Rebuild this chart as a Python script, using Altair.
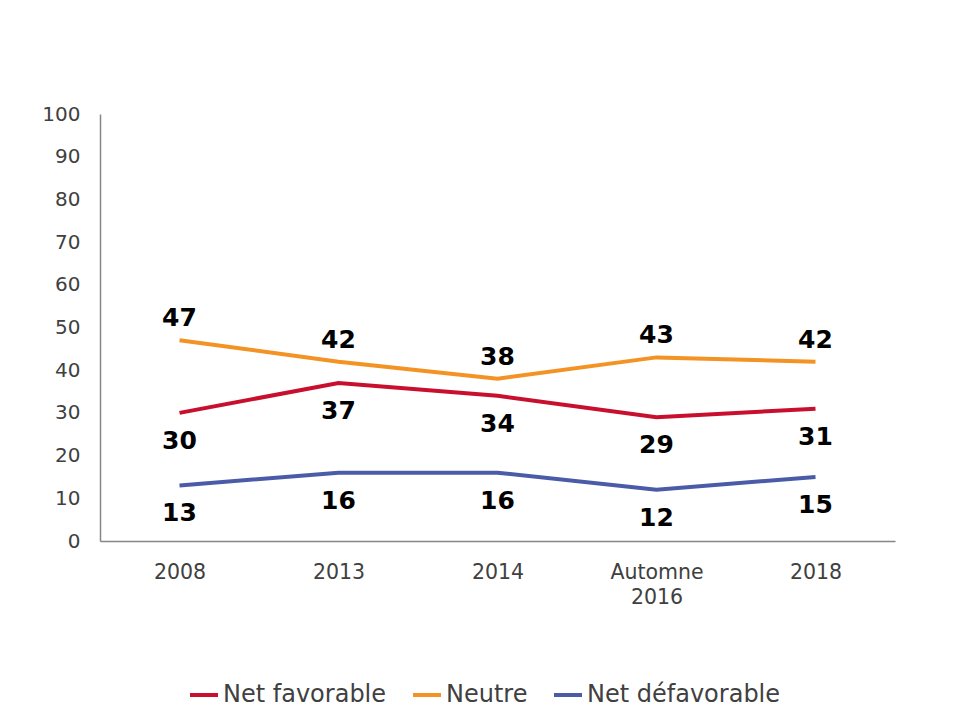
import altair as alt
import pandas as pd

periods = ["2008", "2013", "2014", "Automne\n2016", "2018"]
series_names = ["Net favorable", "Neutre", "Net défavorable"]
net_favorable = [30, 37, 34, 29, 31]
neutre = [47, 42, 38, 43, 42]
net_defavorable = [13, 16, 16, 12, 15]
colors = ["#C8102E", "#F39324", "#4A5BA8"]

rows = []
for name, vals in zip(series_names, [net_favorable, neutre, net_defavorable]):
    for p, v in zip(periods, vals):
        rows.append({"period": p, "series": name, "value": v})
df = pd.DataFrame(rows)

x = alt.X(
    "period:N",
    sort=periods,
    title=None,
    axis=alt.Axis(
        labelAngle=0,
        labelFontSize=20.5,
        labelFont="DejaVu Sans",
        labelColor="#404040",
        labelPadding=21,
        labelLineHeight=25,
        labelExpr="split(datum.label, '\\n')",
        ticks=False,
        domainColor="#868686",
        domainWidth=1.5,
        grid=False,
    ),
    scale=alt.Scale(paddingInner=0, paddingOuter=0),
)
y = alt.Y(
    "value:Q",
    title=None,
    scale=alt.Scale(domain=[0, 100]),
    axis=alt.Axis(
        values=list(range(0, 101, 10)),
        labelFontSize=20,
        labelFont="DejaVu Sans",
        labelColor="#404040",
        labelPadding=20,
        ticks=False,
        domainColor="#868686",
        domainWidth=1.5,
        grid=False,
    ),
)
color = alt.Color(
    "series:N",
    sort=series_names,
    scale=alt.Scale(domain=series_names, range=colors),
    legend=alt.Legend(
        title=None,
        orient="none",
        direction="horizontal",
        legendX=88,
        legendY=565,
        symbolType="stroke",
        symbolSize=784,
        symbolStrokeWidth=4,
        labelFontSize=24,
        labelFont="DejaVu Sans",
        labelColor="#404040",
        labelOffset=3,
        labelLimit=400,
        columnPadding=18,
        padding=0,
    ),
)

base = alt.Chart(df)
lines = base.mark_line(strokeWidth=4).encode(x=x, y=y, color=color)

text_above = base.transform_filter(alt.datum.series == "Neutre").mark_text(
    dy=-22, fontSize=25, fontWeight="bold", font="DejaVu Sans", color="black", baseline="middle"
).encode(x=x, y=y, text="value:Q")
text_below = base.transform_filter(alt.datum.series != "Neutre").mark_text(
    dy=28, fontSize=25, fontWeight="bold", font="DejaVu Sans", color="black", baseline="middle"
).encode(x=x, y=y, text="value:Q")

chart = (
    alt.layer(lines, text_above, text_below)
    .properties(
        width=795,
        height=427,
        autosize=alt.AutoSizeParams(type="none"),
        padding={"left": 92, "top": 106, "right": 50, "bottom": 170},
        view=alt.ViewBackground(strokeOpacity=0, strokeWidth=0),
    )
    .configure_view(strokeOpacity=0, strokeWidth=0)
    .configure(background="white")
)

chart.save("out.html", embed_options={"renderer": "svg", "actions": False})
